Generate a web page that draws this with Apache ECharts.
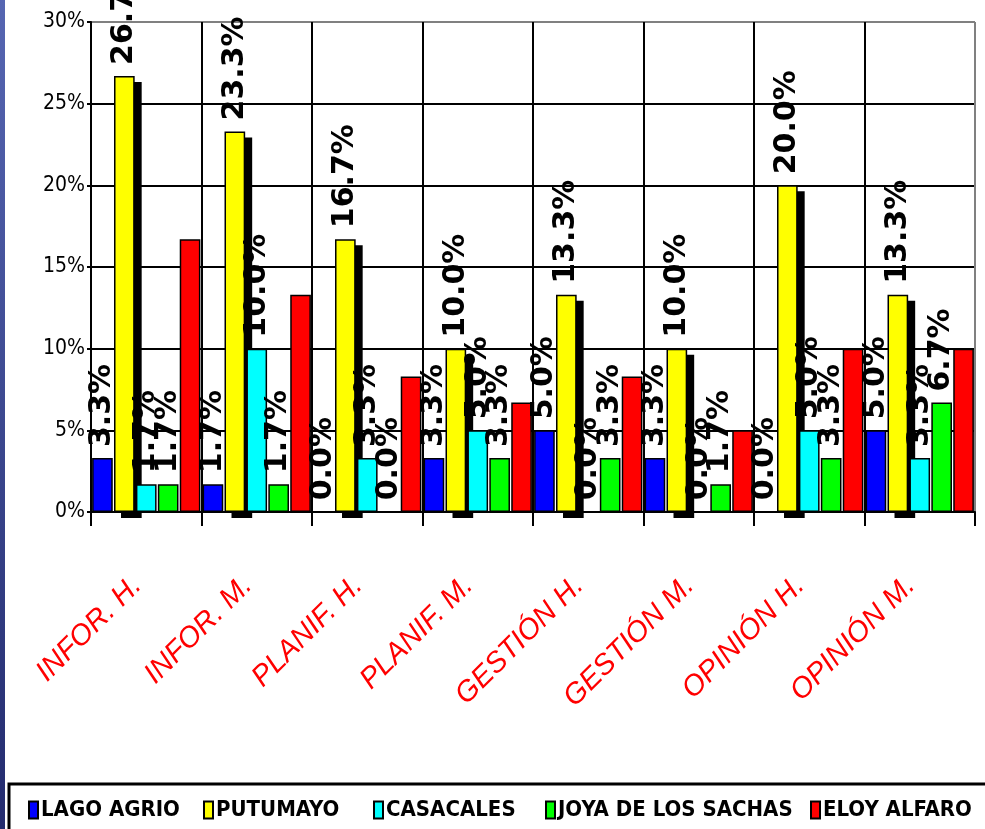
<!DOCTYPE html>
<html>
<head>
<meta charset="utf-8">
<script src="https://cdn.jsdelivr.net/npm/echarts@6/dist/echarts.min.js"></script>
<style>html,body{margin:0;padding:0;background:#fff;}#c{width:985px;height:829px;}</style>
</head>
<body>
<div id="c"></div>
<script>
const categories = ['INFOR. H.', 'INFOR. M.', 'PLANIF. H.', 'PLANIF. M.', 'GESTIÓN H.', 'GESTIÓN M.', 'OPINIÓN H.', 'OPINIÓN M.'];
const seriesNames = ['LAGO AGRIO', 'PUTUMAYO', 'CASACALES', 'JOYA DE LOS SACHAS', 'ELOY ALFARO'];
const lagoAgrio = [3.3, 1.7, 0.0, 3.3, 5.0, 3.3, 0.0, 5.0];
const putumayo = [26.7, 23.3, 16.7, 10.0, 13.3, 10.0, 20.0, 13.3];
const casacales = [1.7, 10.0, 3.3, 5.0, 0.0, 0.0, 5.0, 3.3];
const joyaSachas = [1.7, 1.7, 0.0, 3.3, 3.3, 1.7, 3.3, 6.7];
const eloyAlfaro = [16.7, 13.3, 8.3, 6.7, 8.3, 5.0, 10.0, 10.0];
const yTicks = [0, 5, 10, 15, 20, 25, 30];

const colors = ['#0000ff', '#ffff00', '#00ffff', '#00ff00', '#ff0000'];
const values = [lagoAgrio, putumayo, casacales, joyaSachas, eloyAlfaro];
const showLabel = [true, true, true, true, false];

const CAT_GAP = 0.02, BAR_GAP = 0.06;
const narrow = "'Liberation Sans Narrow', 'DejaVu Sans Condensed', sans-serif";

const chart = echarts.init(document.getElementById('c'), null, {renderer: 'canvas'});

const barSeries = seriesNames.map((name, i) => ({
  name: name,
  type: 'bar',
  data: values[i],
  barCategoryGap: (CAT_GAP * 100) + '%',
  barGap: (BAR_GAP * 100) + '%',
  itemStyle: {color: colors[i], borderColor: '#000', borderWidth: 1.5},
  label: {
    show: showLabel[i],
    position: 'top',
    rotate: 90,
    align: 'left',
    verticalAlign: 'middle',
    distance: 11,
    formatter: p => p.value.toFixed(1) + '%',
    fontFamily: "'DejaVu Sans', sans-serif",
    fontWeight: 'bold',
    fontSize: 30,
    color: '#000'
  },
  emphasis: {disabled: true}
}));

// 3D-like black shadow behind the PUTUMAYO bars
const shadowSeries = {
  name: 'shadow',
  type: 'custom',
  silent: true,
  data: putumayo.map((v, i) => [i, v]),
  encode: {x: 0, y: 1},
  renderItem: function (params, api) {
    const cat = api.value(0), val = api.value(1);
    const top = api.coord([cat, val]);
    const base = api.coord([cat, 0]);
    const bandW = api.size([1, 0])[0];
    const usable = bandW * (1 - CAT_GAP);
    const w = usable / (5 + 4 * BAR_GAP);
    const x0 = top[0] - usable / 2 + w * (1 + BAR_GAP);
    return {
      type: 'rect',
      shape: {x: x0 + 7, y: top[1] + 6, width: w, height: base[1] - top[1]},
      style: {fill: '#000'}
    };
  }
};

const series = [barSeries[0], shadowSeries, barSeries[1], barSeries[2], barSeries[3], barSeries[4]];

const legendLefts = [28, 203, 373, 545, 810];
const legends = seriesNames.map((name, i) => ({
  data: [name],
  left: legendLefts[i],
  top: 799,
  padding: 0,
  itemWidth: 9,
  itemHeight: 17,
  itemGap: 4,
  selectedMode: false,
  icon: 'rect',
  itemStyle: {borderColor: '#000', borderWidth: 2},
  textStyle: {fontFamily: narrow, fontWeight: 'bold', fontSize: 22, color: '#000', padding: [0, 0, 0, -2]}
}));

const xSplitColors = [];
for (let k = 0; k <= categories.length; k++) xSplitColors.push(k === categories.length ? '#808080' : '#000');
const ySplitColors = yTicks.map((t, k) => k === yTicks.length - 1 ? '#808080' : '#000');

chart.setOption({
  animation: false,
  backgroundColor: '#fff',
  grid: {left: 91, right: 10, top: 22, bottom: 317, containLabel: false},
  legend: legends,
  graphic: [
    {type: 'rect', shape: {x: 0, y: 0, width: 5, height: 829},
     style: {fill: new echarts.graphic.LinearGradient(0, 0, 0, 1, [{offset: 0, color: '#5666b2'}, {offset: 1, color: '#232b6e'}])}, z: 100},
    {type: 'rect', shape: {x: 9, y: 784, width: 990, height: 60},
     style: {fill: 'none', stroke: '#000', lineWidth: 3}, z: 100}
  ],
  xAxis: {
    type: 'category',
    data: categories,
    axisLine: {lineStyle: {color: '#000', width: 2}},
    axisTick: {show: true, length: 14, lineStyle: {color: '#000', width: 2}},
    splitLine: {show: true, lineStyle: {color: xSplitColors, width: 2}},
    axisLabel: {
      rotate: 45,
      margin: 60,
      interval: 0,
      padding: [0, 13, 0, 0],
      color: '#ff0000',
      fontFamily: "'Liberation Sans', Arial, sans-serif",
      fontStyle: 'italic',
      fontSize: 29
    }
  },
  yAxis: {
    type: 'value',
    min: 0,
    max: 30,
    interval: 5,
    axisLine: {show: true, lineStyle: {color: '#000', width: 2}},
    axisTick: {show: true, length: 4, lineStyle: {color: '#000', width: 2}},
    splitLine: {show: true, lineStyle: {color: ySplitColors, width: 2}},
    axisLabel: {
      formatter: v => v + '%',
      margin: 6,
      color: '#000',
      fontFamily: narrow,
      fontSize: 21
    }
  },
  series: series
});
</script>
</body>
</html>
